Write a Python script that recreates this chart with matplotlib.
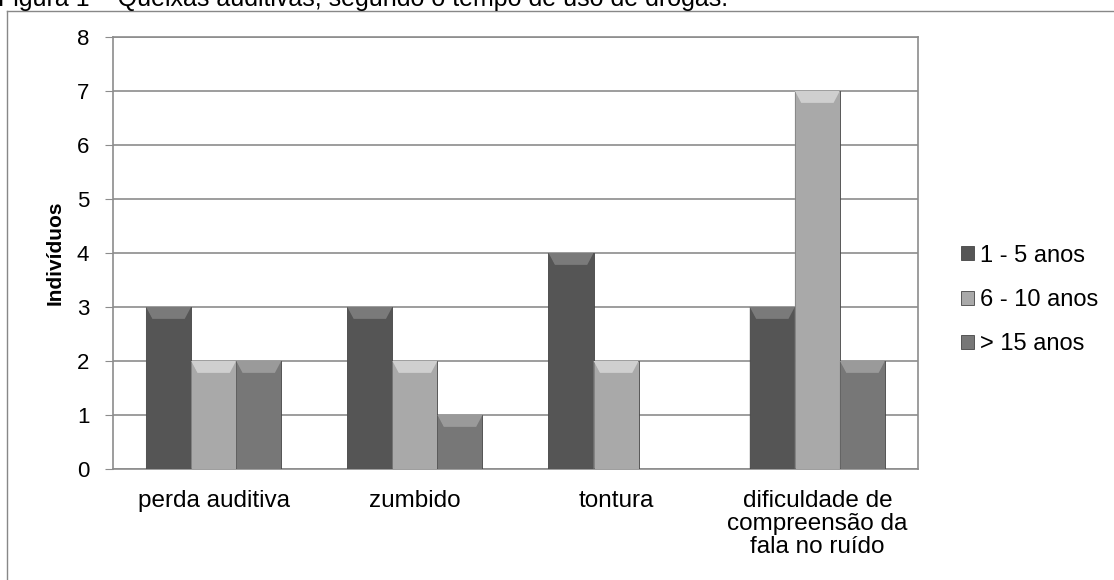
import matplotlib
matplotlib.use("Agg")
import matplotlib.pyplot as plt
from matplotlib.patches import Polygon
from matplotlib.lines import Line2D
import numpy as np

plt.rcParams['font.family'] = ['Liberation Sans', 'DejaVu Sans']

categories = ["perda auditiva", "zumbido", "tontura",
              "dificuldade de\ncompreensão da\nfala no ruído"]
series_names = ["1 - 5 anos", "6 - 10 anos", "> 15 anos"]
vals_1_5 = [3, 3, 4, 3]
vals_6_10 = [2, 2, 2, 7]
vals_15 = [2, 1, 0, 2]
colors = ["#555555", "#a9a9a9", "#777777"]
top_colors = ["#7a7a7a", "#cfcfcf", "#9a9a9a"]

fig = plt.figure(figsize=(11.14, 5.8), dpi=100)
ax = fig.add_axes([0.1014, 0.1914, 0.7226, 0.7448])

x = np.arange(len(categories))
w = 0.224
for i, (vals, c, tc) in enumerate(zip([vals_1_5, vals_6_10, vals_15], colors, top_colors)):
    bars = ax.bar(x + (i - 1) * w, vals, w, color=c, edgecolor="#444444",
                  linewidth=0.6, zorder=3, label=series_names[i])
    for r in bars:
        h = r.get_height()
        if h <= 0:
            continue
        x0 = r.get_x()
        x1 = x0 + r.get_width()
        ins = r.get_width() * 0.14
        bh = 0.22
        # bevel at the top and a darker left side
        ax.add_patch(Polygon([(x0, h), (x1, h), (x1 - ins, h - bh), (x0 + ins, h - bh)],
                             closed=True, facecolor=tc, edgecolor="none", zorder=4))
        ax.add_patch(Polygon([(x0, h), (x0 + ins, h - bh), (x0 + ins, 0.05), (x0, 0)],
                             closed=True, facecolor=c, edgecolor="none", alpha=0.6, zorder=4))

ax.set_xlim(-0.5, len(categories) - 0.5)
ax.set_ylim(0, 8)
ax.set_yticks(range(0, 9))
ax.yaxis.grid(True, color="#8c8c8c", linewidth=1.2, zorder=0)
ax.set_axisbelow(True)
for s in ax.spines.values():
    s.set_color("#8c8c8c")
    s.set_linewidth(1.2)
ax.tick_params(axis="y", length=6, color="#8c8c8c", labelsize=16, pad=11)
ax.tick_params(axis="x", length=0, labelsize=17.5, pad=15)
ax.set_xticks(x)
ax.set_xticklabels(categories, va="top", linespacing=1.05)
ax.set_ylabel("Indivíduos", fontsize=15, fontweight="bold", labelpad=9)

ax.legend(loc="center left", bbox_to_anchor=(952 / 1114, 1 - 300 / 580),
          bbox_transform=fig.transFigure, frameon=False, borderaxespad=0,
          fontsize=17, handlelength=0.55, handleheight=0.55, handletextpad=0.25,
          labelspacing=0.95)

fig.text(-0.002, 1 - 6 / 580, "Figura 1 \u2013 Queixas auditivas, segundo o tempo de uso de drogas.",
         fontsize=18, va="baseline", ha="left")

fig.add_artist(Line2D([7 / 1114, 7 / 1114], [0, 1 - 11 / 580], color="#888888", linewidth=1.0))
fig.add_artist(Line2D([7 / 1114, 1], [1 - 11 / 580, 1 - 11 / 580], color="#888888", linewidth=1.0))

fig.savefig("out.png", dpi=100)
